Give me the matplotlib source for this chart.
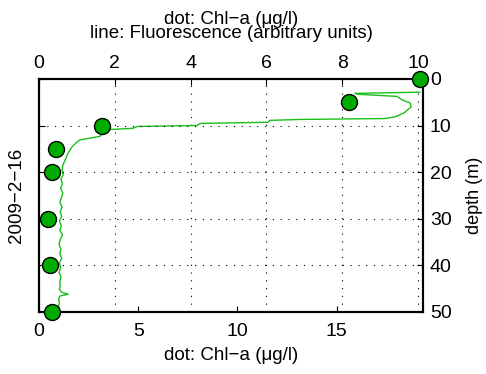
import numpy as np
import matplotlib.pyplot as plt

plt.rcParams['font.family'] = ['Liberation Sans', 'DejaVu Sans']

# Chl-a samples (dots)
chl_depth = [0, 5, 10, 15, 20, 30, 40, 50]
chl_value = [19.2, 15.6, 3.2, 0.86, 0.64, 0.46, 0.56, 0.66]

# fluorescence profile (line), arbitrary units
fl_depth = [2.85, 3.1, 3.3, 3.75, 4.5, 5.15, 6.0, 7.3, 8.15, 8.5, 8.7, 8.9, 9.3,
            9.55, 10.0, 10.2, 10.6, 10.9, 11.6, 12.3, 13.1, 13.7, 14.6, 15.9,
            17.4, 18.5, 19.5, 20.5, 21.5, 22.5, 23.5, 24.5, 25.5, 26.5, 27.5,
            28.5, 29.5, 30.5, 31.5, 32.5, 33.5, 34.5, 35.5, 36.5, 37.5, 38.5,
            39.5, 40.5, 41.5, 42.5, 43.5, 44.5, 45.2, 45.8, 46.2, 46.6, 47.2,
            48.0, 49.0, 50.0]
fl_value = [10.05, 8.34, 8.42, 9.45, 9.58, 9.79, 9.82, 9.63, 9.39, 9.13, 6.89,
            6.09, 6.04, 4.25, 4.17, 2.59, 2.48, 1.79, 1.69, 1.61, 1.08, 0.98,
            0.87, 0.77, 0.69, 0.63, 0.61, 0.64, 0.58, 0.62, 0.57, 0.63, 0.59,
            0.55, 0.61, 0.56, 0.60, 0.54, 0.59, 0.55, 0.62, 0.56, 0.53, 0.58,
            0.55, 0.60, 0.54, 0.57, 0.53, 0.58, 0.55, 0.56, 0.54, 0.60, 0.77,
            0.55, 0.52, 0.54, 0.51, 0.53]

date_label = '2009\u22122\u221216'

fig = plt.figure(figsize=(4.86, 3.74), dpi=100)
ax = fig.add_axes([0.0802, 0.166, 0.790, 0.623])

ax.plot(chl_value, chl_depth, 'o', ms=11.5, mfc=(0, 0.67, 0), mec='black',
        mew=1.0, clip_on=False, zorder=5)
ax.set_xlim(0, 19.35)
ax.set_ylim(50, 0)
ax.set_xticks([0, 5, 10, 15])
ax.set_yticks([0, 10, 20, 30, 40, 50])
ax.tick_params(axis='x', direction='in', top=True, bottom=True, length=4,
               labelsize=14, pad=8)
ax.tick_params(axis='y', direction='in', left=True, right=True, labelleft=False,
               labelright=True, length=4, labelsize=14, pad=5)
ax.yaxis.set_label_position('right')
ax.set_ylabel('depth (m)', fontsize=13, labelpad=10)
ax.set_xlabel('dot: Chl\u2212a (\u03bcg/l)', fontsize=13.5, labelpad=5)
ax.grid(axis='y', linestyle=(0, (1, 6)), color='black', linewidth=0.8)
ax.text(-0.058, 0.5, date_label, transform=ax.transAxes, rotation=90,
        ha='center', va='center', fontsize=13.5)

ax2 = ax.twiny()
ax2.plot(fl_value, fl_depth, color=(0.1, 0.75, 0.1), lw=1.0, zorder=3)
ax2.set_xlim(0, 10.13)
ax2.set_xticks([0, 2, 4, 6, 8, 10])
ax2.tick_params(axis='x', direction='in', length=4, labelsize=14, pad=5)
ax2.grid(axis='x', linestyle=(0, (1, 6)), color='black', linewidth=0.8)
ax2.set_xlabel('dot: Chl\u2212a (\u03bcg/l)\nline: Fluorescence (arbitrary units)',
               fontsize=13.5, labelpad=12, linespacing=0.8)
ax2.set_zorder(ax.get_zorder() - 1)
ax.patch.set_visible(False)

for a in (ax, ax2):
    for s in a.spines.values():
        s.set_linewidth(1.5)

fig.savefig('out.png', dpi=100)
